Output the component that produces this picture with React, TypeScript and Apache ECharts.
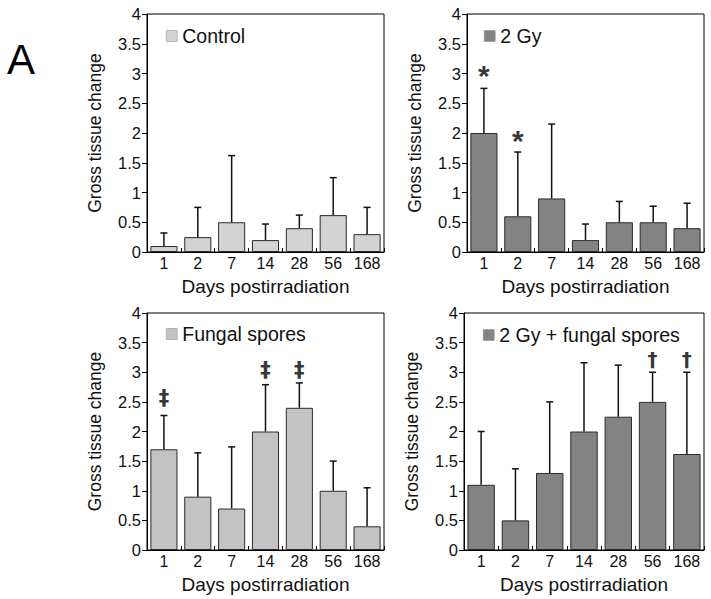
import React, { useEffect, useRef } from "react";
import * as echarts from "echarts";

const categories = ["1", "2", "7", "14", "28", "56", "168"];

const controlMean = [0.1, 0.25, 0.5, 0.2, 0.4, 0.62, 0.3];
const controlErrTop = [0.32, 0.75, 1.62, 0.47, 0.62, 1.25, 0.75];

const gy2Mean = [2.0, 0.6, 0.9, 0.2, 0.5, 0.5, 0.4];
const gy2ErrTop = [2.75, 1.68, 2.15, 0.47, 0.85, 0.77, 0.82];

const fungalMean = [1.7, 0.9, 0.7, 2.0, 2.4, 1.0, 0.4];
const fungalErrTop = [2.27, 1.64, 1.74, 2.79, 2.82, 1.5, 1.05];

const comboMean = [1.1, 0.5, 1.3, 2.0, 2.25, 2.5, 1.62];
const comboErrTop = [2.0, 1.37, 2.5, 3.16, 3.12, 3.0, 3.0];

const gy2MarkCats = ["1", "2"];
const gy2MarkY = [3.06, 1.98];
const fungalMarkCats = ["1", "14", "28"];
const fungalMarkY = [2.57, 3.04, 3.04];
const comboMarkCats = ["56", "168"];
const comboMarkY = [3.22, 3.22];

const FONT = "'Liberation Sans', Arial, Helvetica, sans-serif";
const MARK_FONT = "'DejaVu Sans', 'Liberation Sans', sans-serif";

type Panel = {
  name: string;
  mean: number[];
  err: number[];
  color: string;
  grid: { left: number; top: number; width: number; height: number };
  legendPos: { left: number; top: number };
  marks: { cats: string[]; y: number[]; symbol: string; size: number; offsetY: number; font: string };
};

const panels: Panel[] = [
  {
    name: "Control",
    mean: controlMean,
    err: controlErrTop,
    color: "#d3d3d3",
    grid: { left: 147, top: 14, width: 237, height: 238 },
    legendPos: { left: 166, top: 26 },
    marks: { cats: [], y: [], symbol: "", size: 20, offsetY: 0, font: FONT },
  },
  {
    name: "2 Gy",
    mean: gy2Mean,
    err: gy2ErrTop,
    color: "#838383",
    grid: { left: 467, top: 14, width: 237, height: 238 },
    legendPos: { left: 484, top: 26 },
    marks: { cats: gy2MarkCats, y: gy2MarkY, symbol: "*", size: 30, offsetY: 6, font: FONT },
  },
  {
    name: "Fungal spores",
    mean: fungalMean,
    err: fungalErrTop,
    color: "#c3c3c3",
    grid: { left: 147, top: 313, width: 237, height: 237 },
    legendPos: { left: 166, top: 324 },
    marks: { cats: fungalMarkCats, y: fungalMarkY, symbol: "‡", size: 21, offsetY: 0, font: MARK_FONT },
  },
  {
    name: "2 Gy + fungal spores",
    mean: comboMean,
    err: comboErrTop,
    color: "#838383",
    grid: { left: 464, top: 313, width: 240, height: 237 },
    legendPos: { left: 483, top: 325 },
    marks: { cats: comboMarkCats, y: comboMarkY, symbol: "†", size: 20, offsetY: 0, font: MARK_FONT },
  },
];

export default function App() {
  const ref = useRef<HTMLDivElement>(null);

  useEffect(() => {
    if (!ref.current) return;
    const chart = echarts.init(ref.current, undefined, { renderer: "svg" });

    const grids: any[] = [];
    const xAxes: any[] = [];
    const yAxes: any[] = [];
    const legends: any[] = [];
    const series: any[] = [];

    panels.forEach((p, i) => {
      grids.push({
        ...p.grid,
        show: true,
        borderColor: "#000",
        borderWidth: 1,
        backgroundColor: "transparent",
        containLabel: false,
      });
      xAxes.push({
        type: "category",
        gridIndex: i,
        data: categories,
        name: "Days postirradiation",
        nameLocation: "middle",
        nameGap: 25,
        nameTextStyle: { fontSize: 19, color: "#111", fontFamily: FONT },
        axisLine: { lineStyle: { color: "#000", width: 1 } },
        axisTick: { show: true, inside: true, length: 4, alignWithLabel: false, lineStyle: { color: "#000" } },
        axisLabel: { fontSize: 16, color: "#111", margin: 3, fontFamily: FONT, interval: 0 },
        splitLine: { show: false },
      });
      yAxes.push({
        type: "value",
        gridIndex: i,
        min: 0,
        max: 4,
        interval: 0.5,
        name: "Gross tissue change",
        nameLocation: "middle",
        nameGap: 43,
        nameTextStyle: { fontSize: 17.5, color: "#111", fontFamily: FONT },
        axisLine: { show: true, lineStyle: { color: "#000", width: 1 } },
        axisTick: { show: true, inside: false, length: 5, lineStyle: { color: "#000" } },
        axisLabel: { fontSize: 16.5, color: "#111", margin: 6, fontFamily: FONT },
        splitLine: { show: false },
      });
      legends.push({
        data: [p.name],
        left: p.legendPos.left,
        top: p.legendPos.top,
        itemWidth: 11,
        itemHeight: 11,
        icon: "rect",
        selectedMode: false,
        padding: 0,
        itemStyle: { borderWidth: 0.5, borderColor: "#888" },
        textStyle: { fontSize: 19.5, color: "#111", fontFamily: FONT },
      });
      series.push({
        type: "bar",
        name: p.name,
        xAxisIndex: i,
        yAxisIndex: i,
        data: p.mean,
        barCategoryGap: "20%",
        itemStyle: { color: p.color, borderColor: "#2a2a2a", borderWidth: 1 },
        z: 2,
      });
      series.push({
        type: "custom",
        name: p.name + " error",
        xAxisIndex: i,
        yAxisIndex: i,
        data: categories.map((_, k) => [k, p.mean[k], p.err[k]]),
        encode: { x: 0, y: [1, 2] },
        z: 3,
        renderItem: (params: any, api: any) => {
          const base = api.coord([api.value(0), api.value(1)]);
          const top = api.coord([api.value(0), api.value(2)]);
          const style = { stroke: "#111", lineWidth: 1.5 };
          return {
            type: "group",
            children: [
              { type: "line", shape: { x1: base[0], y1: base[1], x2: top[0], y2: top[1] }, style },
              { type: "line", shape: { x1: top[0] - 3.5, y1: top[1], x2: top[0] + 3.5, y2: top[1] }, style },
            ],
          };
        },
      });
      if (p.marks.cats.length) {
        series.push({
          type: "scatter",
          name: p.name + " marks",
          xAxisIndex: i,
          yAxisIndex: i,
          data: p.marks.cats.map((c, k) => [c, p.marks.y[k]]),
          symbolSize: 1,
          itemStyle: { color: "transparent" },
          z: 4,
          label: {
            show: true,
            position: "inside",
            formatter: () => p.marks.symbol,
            fontSize: p.marks.size,
            fontWeight: "bold",
            color: "#000",
            fontFamily: p.marks.font,
            offset: [0, p.marks.offsetY],
          },
        });
      }
    });

    chart.setOption({
      animation: false,
      backgroundColor: "#fff",
      textStyle: { fontFamily: FONT },
      grid: grids,
      xAxis: xAxes,
      yAxis: yAxes,
      legend: legends,
      series,
      graphic: [
        {
          type: "text",
          left: 7,
          top: 38,
          style: { text: "A", fontSize: 42, fill: "#000", fontFamily: FONT },
        },
      ],
    });

    return () => chart.dispose();
  }, []);

  return (
    <div
      ref={ref}
      style={{ position: "absolute", left: 0, top: 0, width: 711, height: 599, background: "#fff" }}
    />
  );
}
